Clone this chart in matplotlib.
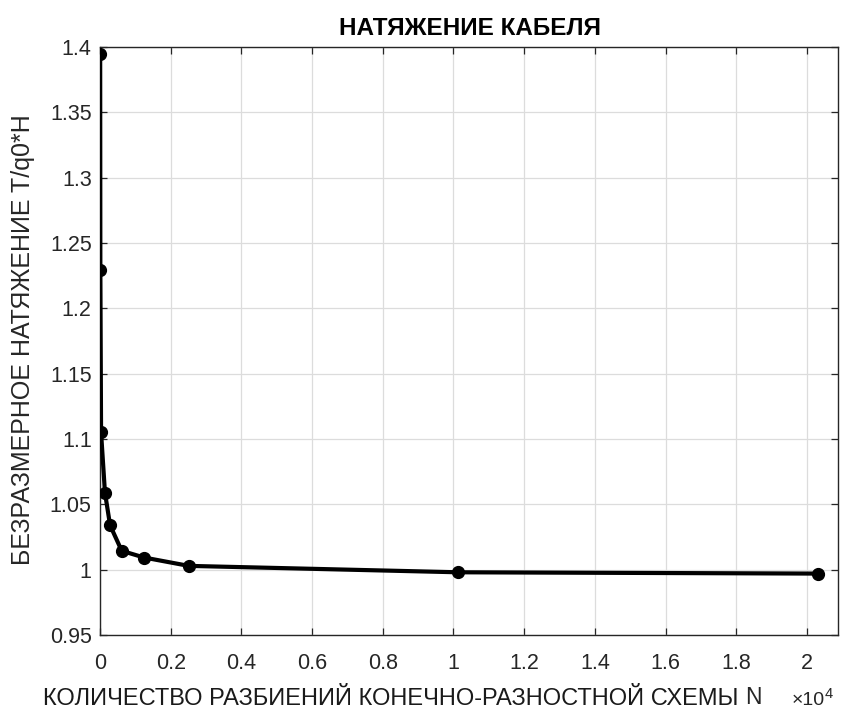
import matplotlib
matplotlib.use("Agg")
import matplotlib.pyplot as plt

# mesh refinement study: number of grid intervals vs dimensionless tension
n_points = [5, 10, 30, 140, 285, 615, 1245, 2510, 10120, 20320]
tension = [1.3944, 1.2297, 1.105, 1.059, 1.034, 1.0144, 1.0093, 1.0029, 0.998, 0.997]

x_ticks = [0, 2000, 4000, 6000, 8000, 10000, 12000, 14000, 16000, 18000, 20000]
x_tick_labels = ["0", "0.2", "0.4", "0.6", "0.8", "1", "1.2", "1.4", "1.6", "1.8", "2"]
y_ticks = [0.95, 1.0, 1.05, 1.1, 1.15, 1.2, 1.25, 1.3, 1.35, 1.4]
y_tick_labels = ["0.95", "1", "1.05", "1.1", "1.15", "1.2", "1.25", "1.3", "1.35", "1.4"]

plt.rcParams['font.family'] = ['Liberation Sans', 'DejaVu Sans']

dark = '#262626'
W, H = 844, 709

fig = plt.figure(figsize=(W / 100, H / 100), dpi=100)
ax = fig.add_axes([100 / W, 1 - 635 / H, 738 / W, 588 / H])

ax.plot(n_points, tension, color='black', linewidth=3.0, marker='o',
        markersize=8.5, markerfacecolor='black', markeredgecolor='black',
        zorder=3)

ax.set_xlim(0, 20877)
ax.set_ylim(0.95, 1.4)
ax.set_xticks(x_ticks)
ax.set_xticklabels(x_tick_labels)
ax.set_yticks(y_ticks)
ax.set_yticklabels(y_tick_labels)

ax.grid(True, color='#dcdcdc', linewidth=0.9)
ax.set_axisbelow(True)
ax.tick_params(direction='in', top=True, right=True, length=5, width=0.9,
               colors=dark, labelsize=15.5)
ax.tick_params(axis='x', pad=13)
ax.tick_params(axis='y', pad=6)
for s in ax.spines.values():
    s.set_color(dark)
    s.set_linewidth(1.0)

# title and axis labels placed in pixel terms
fig.text(470 / W, 1 - 35 / H, "НАТЯЖЕНИЕ КАБЕЛЯ", ha='center',
         va='baseline', fontsize=17.5, fontweight='bold', color='black')
fig.text(23 / W, 1 - 340 / H, "БЕЗРАЗМЕРНОЕ НАТЯЖЕНИЕ T/q0*H", rotation=90,
         ha='center', va='center', fontsize=18, color=dark)
fig.text(43 / W, 1 - 705 / H, "КОЛИЧЕСТВО РАЗБИЕНИЙ КОНЕЧНО-РАЗНОСТНОЙ СХЕМЫ",
         ha='left', va='baseline', fontsize=17, color='#1a1a1a')
fig.text(745 / W, 1 - 704 / H, "N", ha='left', va='baseline', fontsize=16.5,
         color=dark)
fig.text(792 / W, 1 - 705 / H, "×10", ha='left', va='baseline', fontsize=14,
         color=dark)
fig.text(825 / W, 1 - 698 / H, "4", ha='left', va='baseline', fontsize=10.5,
         color=dark)

fig.savefig("out.png", dpi=100, facecolor='white')
